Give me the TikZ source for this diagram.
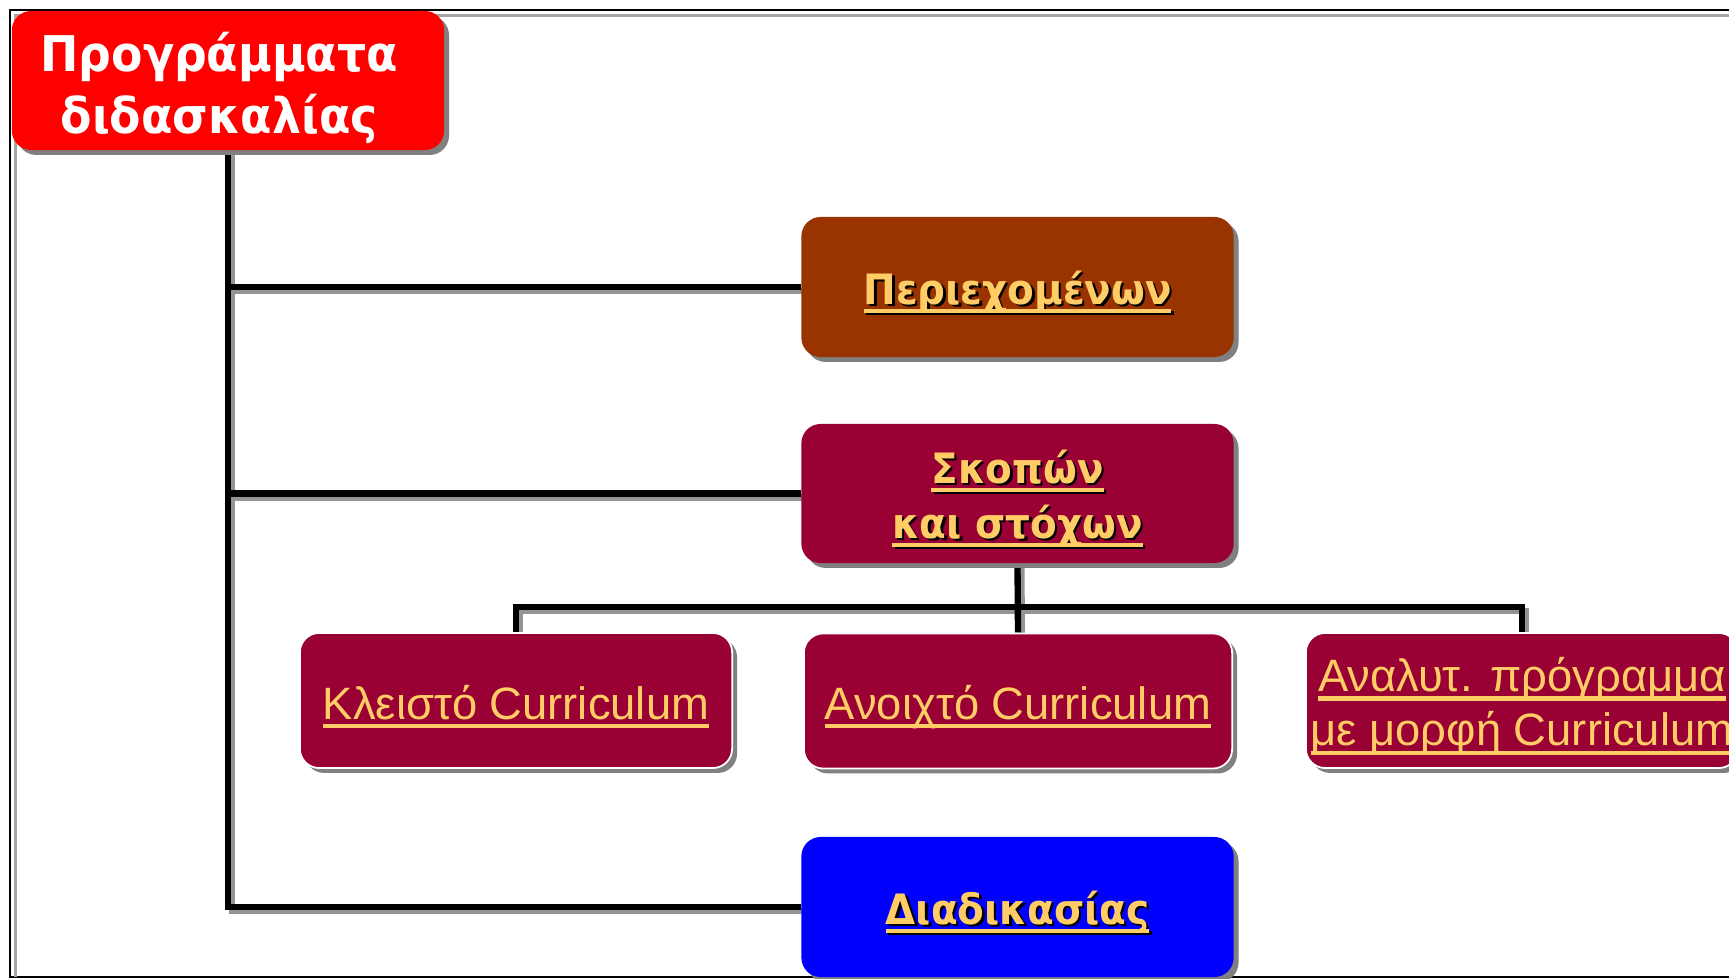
\documentclass[tikz,border=0pt]{standalone}
\usepackage{fontspec}
\setmainfont{Liberation Sans}
\newfontfamily\headfont[FakeStretch=0.93]{DejaVu Sans}
\usetikzlibrary{shadows,backgrounds}

\definecolor{gold}{RGB}{255,204,102}
\definecolor{brownbox}{RGB}{153,51,0}
\definecolor{maroonbox}{RGB}{153,0,51}
% underlined link text, set a little lower in its box
\newsavebox{\ulbox}
\newcommand{\ulink}[1]{\raisebox{-1.7pt}[\height][\depth]{\sbox{\ulbox}{#1}\rlap{\rule[-2.5pt]{\wd\ulbox}{1.2pt}}\usebox{\ulbox}}}
% underlined link text with a dark shadow under it
\newcommand{\ulshadow}[1]{\leavevmode\rlap{\kern0.7pt\raisebox{-0.7pt}{\color{black}\ulink{#1}}}\ulink{#1}}
\newcommand{\lowline}[1]{\raisebox{-2.2pt}[\height][\depth]{#1}\hspace*{5pt}}

\begin{document}
\begin{tikzpicture}[x=0.01cm,y=-0.01cm,
    box/.style={rounded corners=5.5pt, minimum width=4.32cm, minimum height=1.39cm,
      inner sep=0pt, align=center, text=gold,
      drop shadow={shadow xshift=1.4pt, shadow yshift=-1.4pt, fill=black!50, opacity=1}},
    headbox/.style={box, font=\headfont\bfseries\fontsize{11.9}{15.6}\selectfont},
    subbox/.style={box, fill=maroonbox, draw=white, line width=0.5pt,
      minimum height=1.35cm, font=\fontsize{12.9}{15.4}\selectfont},
    wire/.style={line width=1.8pt},
    wireshadow/.style={wire, draw=black!42, transform canvas={xshift=1.1pt, yshift=-1.1pt}}]
  \useasboundingbox (0,0) rectangle (1729,979);
  \clip (0,0) rectangle (1729,979);
  % frame
  \draw[line width=0.6pt] (10,10) rectangle (1760,977);
  \draw[black!35, line width=0.8pt] (15.5,977) -- (15.5,15.5) -- (1760,15.5);

  \node[box, fill=red, text=white, minimum height=1.39cm,
    font=\headfont\bfseries\fontsize{14}{17.6}\selectfont] (prog) at (228,80.5)
    {\lowline{Προγράμματα}\\\lowline{διδασκαλίας}};
  \node[headbox, fill=brownbox, minimum height=1.40cm] (cont) at (1017.5,287) {\ulshadow{Περιεχομένων}};
  \node[headbox, fill=maroonbox] (aims) at (1017.5,493.5) {\ulshadow{Σκοπών}\\\ulshadow{και στόχων}};
  \node[subbox] (closed) at (516,700.5) {\ulink{Κλειστό Curriculum}};
  \node[subbox, minimum width=4.28cm] (open) at (1018,701) {\ulink{Ανοιχτό Curriculum}};
  \node[subbox] (anal) at (1522,700.5) {\ulink{Αναλυτ. πρόγραμμα}\\\ulink{με μορφή Curriculum}};
  \node[headbox, fill=blue, minimum height=1.40cm] (proc) at (1017.5,907) {\ulshadow{Διαδικασίας}};
  \coordinate (bus) at (1017.5,607);

  \begin{scope}[on background layer]
    \foreach \sty in {wireshadow,wire} {
      \draw[\sty] (prog.south) |- (proc.west);
      \draw[\sty] (prog.south |- cont.west) -- (cont.west);
      \draw[\sty] (prog.south |- aims.west) -- (aims.west);
      \draw[\sty] (aims.south) -- (open.north);
      \draw[\sty] (closed.north) |- (bus) -| (anal.north);
    }
  \end{scope}
\end{tikzpicture}
\end{document}
